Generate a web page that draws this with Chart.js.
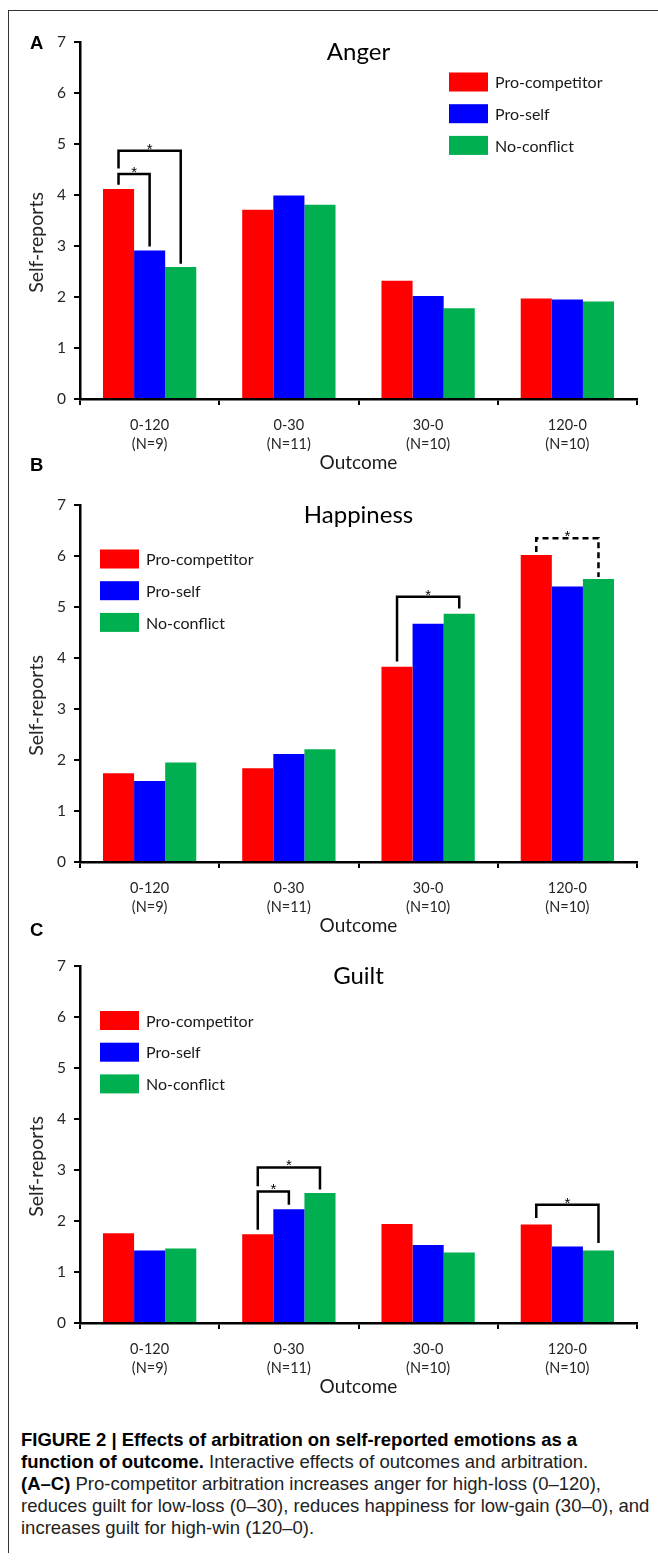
<!DOCTYPE html>
<html>
<head>
<meta charset="utf-8">
<title>Figure 2</title>
<script src="https://cdn.jsdelivr.net/npm/chart.js@4.4.1/dist/chart.umd.min.js"></script>
<style>
body { margin: 0; background: #fff; width: 658px; height: 1562px; position: relative; overflow: hidden; }
.frame { position: absolute; left: 8px; top: 10px; width: 660px; height: 1542px; border-top: 1.5px solid #333; border-left: 1.5px solid #333; }
.panel { position: absolute; left: 0; }
.letter { position: absolute; left: 30px; font: bold 18.5px 'Liberation Sans', Arial, sans-serif; line-height: 18.5px; color: #000; }
.caption { position: absolute; left: 21px; top: 1429px; width: 640px; font: 18.5px 'Liberation Sans', Arial, sans-serif; line-height: 22px; color: #222; white-space: nowrap; }
.caption b { color: #000; }
</style>
</head>
<body>
<div class="frame"></div>
<canvas id="angerChart" class="panel" width="658" height="460" style="top:20px"></canvas>
<canvas id="happinessChart" class="panel" width="658" height="460" style="top:483px"></canvas>
<canvas id="guiltChart" class="panel" width="658" height="460" style="top:944px"></canvas>
<div class="letter" style="top:34px">A</div>
<div class="letter" style="top:456px">B</div>
<div class="letter" style="top:921px">C</div>
<div class="caption">
<b>FIGURE 2 | Effects of arbitration on self-reported emotions as a</b><br>
<b>function of outcome.</b> Interactive effects of outcomes and arbitration.<br>
<b>(A–C)</b> Pro-competitor arbitration increases anger for high-loss (0–120),<br>
reduces guilt for low-loss (0–30), reduces happiness for low-gain (30–0), and<br>
increases guilt for high-win (120–0).
</div>
<script>
// Categorias e séries
const outcomes = [['0-120', '(N=9)'], ['0-30', '(N=11)'], ['30-0', '(N=10)'], ['120-0', '(N=10)']];
const groups = ['Pro-competitor', 'Pro-self', 'No-conflict'];
const yMin = 0;
const yMax = 7;
const yStep = 1;

const angerProCompetitor = [4.12, 3.71, 2.32, 1.97];
const angerProSelf = [2.91, 3.99, 2.02, 1.95];
const angerNoConflict = [2.59, 3.81, 1.78, 1.91];

const happinessProCompetitor = [1.74, 1.84, 3.83, 6.02];
const happinessProSelf = [1.59, 2.12, 4.67, 5.40];
const happinessNoConflict = [1.95, 2.21, 4.87, 5.55];

const guiltProCompetitor = [1.76, 1.74, 1.94, 1.93];
const guiltProSelf = [1.42, 2.23, 1.53, 1.50];
const guiltNoConflict = [1.46, 2.55, 1.38, 1.42];

// Significância: [categoria, série de, série até, topo, ponta esquerda, ponta direita, tracejado]
const angerBrackets = [[0, 0, 1, 4.41, 4.20, 2.99, false], [0, 0, 2, 4.87, 4.52, 2.65, false]];
const happinessBrackets = [[2, 0, 2, 5.20, 3.93, 4.97, false], [3, 0, 2, 6.35, 6.08, 5.59, true]];
const guiltBrackets = [[1, 0, 1, 2.58, 1.83, 2.32, false], [1, 0, 2, 3.05, 2.68, 2.62, false], [3, 0, 2, 2.32, 2.06, 1.57, false]];

document.addEventListener('DOMContentLoaded', function() {
const colors = {
red: '#ff0000',
blue: '#0000ff',
green: '#00b050',
axis: '#000000',
text: '#262626'
};
Chart.defaults.font.family = 'Lato';

// Título, legenda e colchetes desenhados sobre o gráfico
const panelPlugin = (cfg) => ({
id: 'panel',
afterDatasetsDraw(chart) {
const ctx = chart.ctx;
const area = chart.chartArea;
const y = chart.scales.y;
ctx.save();
ctx.fillStyle = '#000';
ctx.font = '24px Lato';
ctx.textAlign = 'center';
ctx.textBaseline = 'alphabetic';
ctx.fillText(cfg.title, (area.left + area.right) / 2, area.top + 17.5);

ctx.save();
ctx.translate(37, (area.top + area.bottom) / 2 + 22);
ctx.rotate(-Math.PI / 2);
ctx.textBaseline = 'middle';
ctx.fillStyle = colors.text;
ctx.font = '19.5px Lato';
ctx.fillText('Self-reports', 0, 0);
ctx.restore();

chart.data.datasets.forEach((ds, i) => {
const cy = area.top + cfg.legendTop + i * 31.7;
const bx = area.left + cfg.legendLeft;
ctx.fillStyle = ds.backgroundColor;
ctx.fillRect(bx, cy - 9.5, 39, 19);
ctx.fillStyle = '#1a1a1a';
ctx.textAlign = 'left';
ctx.textBaseline = 'middle';
ctx.font = '16px Lato';
ctx.fillText(ds.label, bx + 46, cy + 1);
});

ctx.strokeStyle = '#000';
ctx.lineWidth = 2.5;
cfg.brackets.forEach(b => {
const x1 = chart.getDatasetMeta(b[1]).data[b[0]].x;
const x2 = chart.getDatasetMeta(b[2]).data[b[0]].x;
const yt = y.getPixelForValue(b[3]);
ctx.setLineDash(b[6] ? [6, 4] : []);
ctx.beginPath();
ctx.moveTo(x1, y.getPixelForValue(b[4]));
ctx.lineTo(x1, yt);
ctx.lineTo(x2, yt);
ctx.lineTo(x2, y.getPixelForValue(b[5]));
ctx.stroke();
ctx.setLineDash([]);
ctx.fillStyle = '#000';
ctx.font = '15px "Liberation Sans"';
ctx.textAlign = 'center';
ctx.textBaseline = 'alphabetic';
ctx.fillText('*', (x1 + x2) / 2, yt + 3);
});
ctx.restore();
}
});

const buildChart = (id, series, cfg) => {
new Chart(document.getElementById(id), {
type: 'bar',
data: {
labels: outcomes,
datasets: [
{ label: groups[0], data: series[0], backgroundColor: colors.red },
{ label: groups[1], data: series[1], backgroundColor: colors.blue },
{ label: groups[2], data: series[2], backgroundColor: colors.green }
]
},
options: {
responsive: false,
animation: false,
categoryPercentage: 0.67,
barPercentage: 1.0,
layout: { padding: { top: 22, right: 21, left: 0, bottom: 0 } },
plugins: { legend: { display: false }, tooltip: { enabled: false } },
scales: {
x: {
offset: true,
grid: { offset: true, drawOnChartArea: false, drawTicks: true, tickLength: 6, color: colors.axis, lineWidth: 2 },
border: { color: colors.axis, width: 2.5 },
ticks: { color: colors.text, font: { size: 14.5, lineHeight: 1.31 }, padding: 10.5, maxRotation: 0, autoSkip: false },
title: { display: true, text: 'Outcome', color: '#1a1a1a', font: { size: 19, lineHeight: 1.2 }, padding: { top: 0, bottom: 5.6 } },
afterFit: (scale) => { scale.height = 81; }
},
y: {
min: yMin,
max: yMax,
grid: { drawOnChartArea: false, drawTicks: true, tickLength: 6, color: colors.axis, lineWidth: 2 },
border: { color: colors.axis, width: 2.5 },
ticks: { stepSize: yStep, color: colors.text, font: { size: 15.5 }, padding: 8 },
afterFit: (scale) => { scale.width = 80; }
}
}
},
plugins: [panelPlugin(cfg)]
});
};

buildChart('angerChart', [angerProCompetitor, angerProSelf, angerNoConflict],
{ title: 'Anger', legendLeft: 369, legendTop: 40, brackets: angerBrackets });
buildChart('happinessChart', [happinessProCompetitor, happinessProSelf, happinessNoConflict],
{ title: 'Happiness', legendLeft: 20, legendTop: 54, brackets: happinessBrackets });
buildChart('guiltChart', [guiltProCompetitor, guiltProSelf, guiltNoConflict],
{ title: 'Guilt', legendLeft: 20, legendTop: 54.5, brackets: guiltBrackets });
});
</script>
</body>
</html>
